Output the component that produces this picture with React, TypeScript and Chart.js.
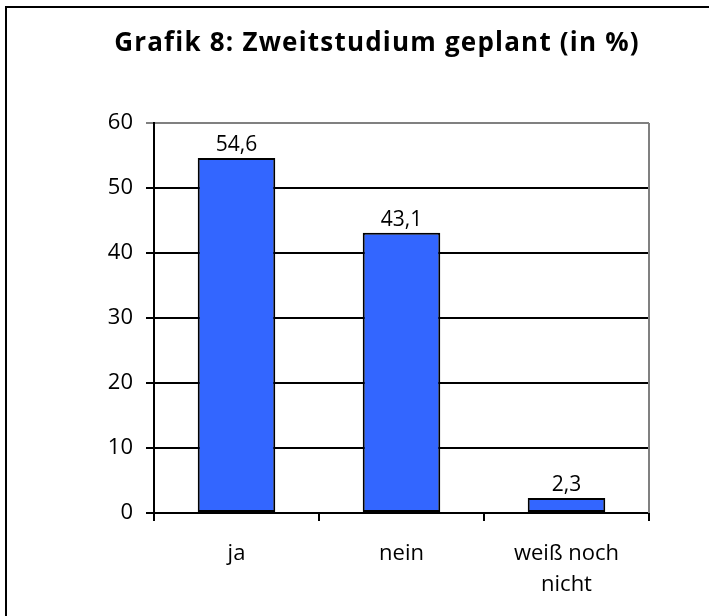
import React, { useEffect, useRef } from "react";
import { Chart, registerables } from "chart.js";

Chart.register(...registerables);

const TITLE = "Grafik 8: Zweitstudium geplant (in %)";
const categories: (string | string[])[] = ["ja", "nein", ["weiß noch", "nicht"]];
const values = [54.6, 43.1, 2.3];
const valueLabels = ["54,6", "43,1", "2,3"];
const yMin = 0;
const yMax = 60;
const yStep = 10;

const FONT = "'Open Sans', 'DejaVu Sans', sans-serif";

export default function App() {
  const ref = useRef<HTMLCanvasElement | null>(null);

  useEffect(() => {
    const canvas = ref.current;
    if (!canvas) return;

    const decor = {
      id: "decor",
      afterDraw(chart: any) {
        const ctx = chart.ctx;
        const area = chart.chartArea;
        ctx.save();
        // outer frame
        ctx.strokeStyle = "#000";
        ctx.lineWidth = 2;
        ctx.strokeRect(6, 7, 900, 900);
        // title
        ctx.fillStyle = "#000";
        ctx.font = `bold 26px ${FONT}`;
        (ctx as any).letterSpacing = "1.2px";
        ctx.textAlign = "center";
        ctx.textBaseline = "alphabetic";
        ctx.fillText(TITLE, 377, 51);
        (ctx as any).letterSpacing = "0px";
        // right plot border (gray)
        ctx.strokeStyle = "#808080";
        ctx.lineWidth = 2;
        ctx.beginPath();
        ctx.moveTo(area.right, area.top);
        ctx.lineTo(area.right, area.bottom);
        ctx.stroke();
        // value labels
        const meta = chart.getDatasetMeta(0);
        ctx.font = `21px ${FONT}`;
        ctx.fillStyle = "#000";
        ctx.textAlign = "center";
        ctx.textBaseline = "alphabetic";
        meta.data.forEach((bar: any, i: number) => {
          ctx.fillText(valueLabels[i], bar.x, bar.y - 7);
        });
        ctx.restore();
      },
    };

    const chart = new Chart(canvas, {
      type: "bar",
      data: {
        labels: categories,
        datasets: [
          {
            data: values,
            backgroundColor: "#3366FF",
            borderColor: "#000",
            borderWidth: 2,
            borderSkipped: false,
            barPercentage: 0.47,
            categoryPercentage: 1,
          },
        ],
      },
      options: {
        animation: false,
        responsive: false,
        maintainAspectRatio: false,
        layout: { padding: { top: 123, right: 60, left: 0, bottom: 0 } },
        plugins: {
          legend: { display: false },
          tooltip: { enabled: false },
          title: { display: false },
        },
        scales: {
          x: {
            offset: true,
            grid: {
              offset: true,
              drawOnChartArea: false,
              drawTicks: true,
              tickLength: 8,
              color: "#000",
              lineWidth: 2,
            },
            border: { color: "#000", width: 2 },
            ticks: {
              color: "#000",
              font: { family: FONT, size: 22, lineHeight: 1.42 },
              padding: 17,
              maxRotation: 0,
              autoSkip: false,
            },
            afterFit: (scale: any) => {
              scale.height = 103;
            },
          },
          y: {
            min: yMin,
            max: yMax,
            ticks: {
              stepSize: yStep,
              color: "#000",
              font: { family: FONT, size: 22 },
              padding: 13,
            },
            grid: {
              color: (c: any) => (c.tick && c.tick.value === yMax ? "#808080" : "#000"),
              lineWidth: 2,
              tickLength: 8,
              drawTicks: true,
            },
            border: { color: "#000", width: 2 },
            afterFit: (scale: any) => {
              scale.width = 154;
            },
          },
        },
      },
      plugins: [decor],
    } as any);

    return () => chart.destroy();
  }, []);

  return (
    <div style={{ position: "fixed", left: 0, top: 0, width: 709, height: 616, background: "#fff" }}>
      <canvas ref={ref} width={709} height={616} style={{ width: 709, height: 616, display: "block" }} />
    </div>
  );
}
